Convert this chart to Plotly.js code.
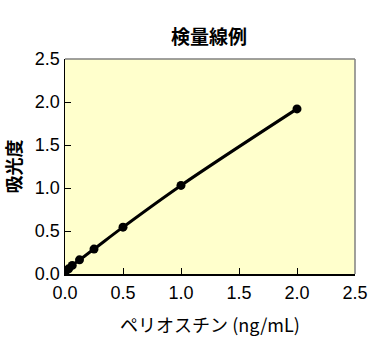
<!DOCTYPE html>
<html><head><meta charset="utf-8">
<script src="https://cdn.plot.ly/plotly-3.0.1.min.js"></script>
<style>html,body{margin:0;padding:0;background:#fff;}#chart{width:380px;height:351px;}</style>
</head><body><div id="chart"></div>
<script>
var concentration = [0, 0.03125, 0.0625, 0.125, 0.25, 0.5, 1.0, 2.0];
var absorbance = [0.02, 0.06, 0.10, 0.165, 0.29, 0.545, 1.03, 1.92];
var tickValues = [0, 0.5, 1.0, 1.5, 2.0, 2.5];
var tickLabels = ['0.0', '0.5', '1.0', '1.5', '2.0', '2.5'];
var chartTitle = '検量線例';
var xTitle = 'ペリオスチン (ng/mL)';
var yTitle = '吸光度';

var trace = {
  x: concentration, y: absorbance, type: 'scatter', mode: 'lines+markers',
  line: {color: '#000', width: 3, shape: 'spline'},
  marker: {color: '#000', size: 9},
  hoverinfo: 'none'
};
var tickFont = {family: 'Liberation Sans, Arial, sans-serif', size: 18, color: '#000'};
var layout = {
  width: 380, height: 351,
  margin: {l: 65, r: 25, t: 59, b: 77},
  paper_bgcolor: '#fff', plot_bgcolor: '#FFFFCC',
  showlegend: false,
  title: {text: '<b>' + chartTitle + '</b>', font: {family: 'Noto Sans CJK JP', size: 19, color: '#000'}, x: 0.55, xanchor: 'center', y: 0.895, yanchor: 'middle'},
  xaxis: {
    range: [0, 2.5], tickvals: tickValues, ticktext: tickLabels,
    ticks: 'inside', ticklen: 6, tickcolor: '#000', tickwidth: 1,
    showline: true, linecolor: '#000', linewidth: 1.5, showgrid: false, zeroline: false,
    tickfont: tickFont, ticklabelstandoff: 2,
    title: {text: xTitle, font: {family: 'Noto Sans CJK JP', size: 18, color: '#000'}, standoff: 17}
  },
  yaxis: {
    range: [0, 2.5], tickvals: tickValues, ticktext: tickLabels,
    ticks: 'inside', ticklen: 6, tickcolor: '#000', tickwidth: 1,
    showline: true, linecolor: '#000', linewidth: 1.5, showgrid: false, zeroline: false,
    tickfont: tickFont,
    title: {text: '<b>' + yTitle + '</b>', font: {family: 'Noto Sans CJK JP', size: 18, color: '#000'}, standoff: 10}
  },
  shapes: [
    {type: 'line', xref: 'paper', yref: 'paper', x0: 0, x1: 1, y0: 1, y1: 1, line: {color: '#808080', width: 1.5}},
    {type: 'line', xref: 'paper', yref: 'paper', x0: 1, x1: 1, y0: 0, y1: 1, line: {color: '#808080', width: 1.5}}
  ]
};
Plotly.newPlot('chart', [trace], layout, {displayModeBar: false, staticPlot: true});
</script></body></html>
